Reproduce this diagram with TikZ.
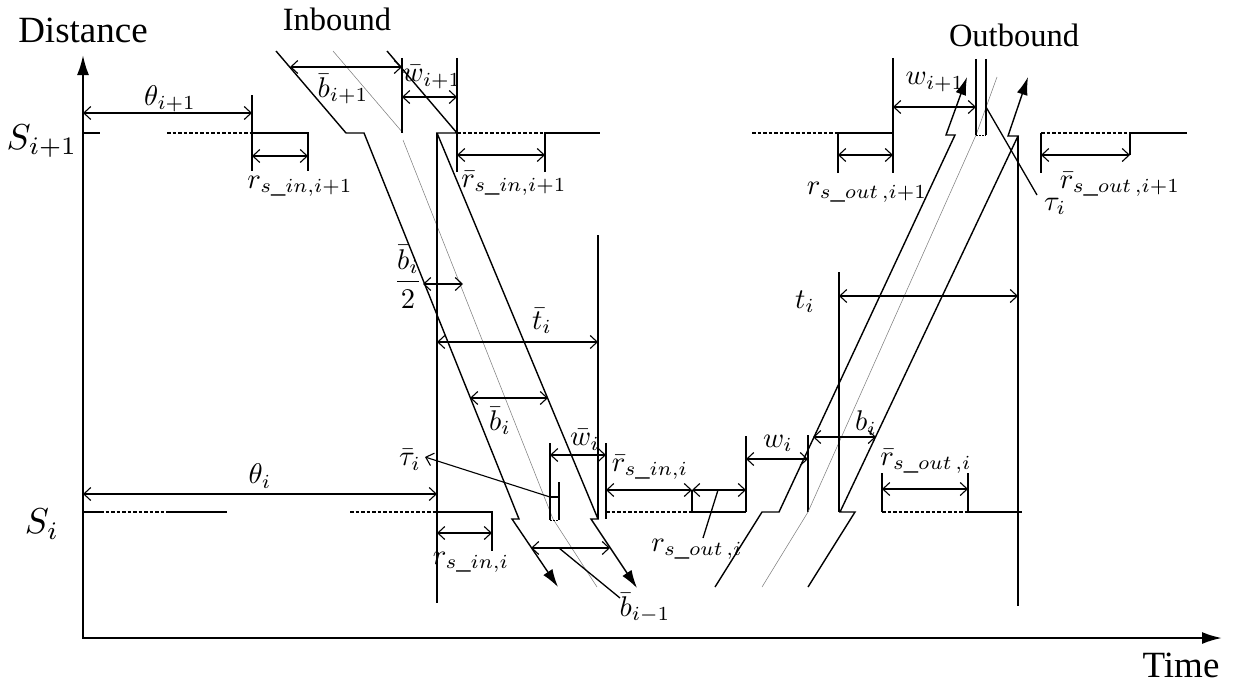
\documentclass[tikz,border=0pt]{standalone}
\usepackage[no-math]{fontspec}
\setmainfont{Liberation Serif}
\usetikzlibrary{arrows.meta}
\tikzset{
  ln/.style={line width=1.3pt},
  dimarr/.style={line width=1.1pt,{Straight Barb[length=7pt,width=13pt]}-{Straight Barb[length=7pt,width=13pt]}},
  ptr/.style={line width=1.1pt,-{Straight Barb[length=7pt,width=13pt]}},
  bus/.style={line width=1.4pt,line join=miter,-{Latex[length=18pt,width=11pt]}},
  cen/.style={line width=0.55pt,gray},
  dsh/.style={line width=1.3pt,dash pattern=on 3.5pt off 2pt},
  ax/.style={line width=2.2pt,{Latex[length=20pt,width=12pt]}-{Latex[length=20pt,width=12pt]}},
  lab/.style={font=\fontsize{10}{12}\selectfont,scale=2.85,inner sep=0pt},
  biglab/.style={font=\fontsize{10}{12}\selectfont,scale=3.6,inner sep=0pt},
  ttl/.style={font=\fontsize{37}{40}\selectfont,inner sep=0pt},
  subttl/.style={font=\fontsize{32.5}{36}\selectfont,inner sep=0pt}
}
\begin{document}
\begin{tikzpicture}[x=1pt,y=-1pt,line width=1.3pt]
\useasboundingbox (0,0) rectangle (1233,685);
% axes
\draw[ax] (83,55) -- (83,638) -- (1222,638);
\draw[line width=2pt] (83,133) -- (100,133);
\draw[line width=2pt] (83,512) -- (100,512);
\node[ttl] (dist) at (83,30) {Distance};
\node[ttl] (time) at (1181,665) {Time};
\node[subttl] (inb) at (337,19) {Inbound};
\node[subttl] (outb) at (1014,35) {Outbound};
\node[biglab] (S1) at (42,141) {$S_{i+1}$};
\node[biglab] (S0) at (42,524) {$S_i$};
% ---------- S_{i+1} level, left
\draw[dsh] (167,133) -- (252,133);
\draw (252,95) -- (252,171);
\draw (252,133) -- (308,133) -- (308,171);
\draw[dimarr] (83,113) -- (252,113);
\draw[dimarr] (252,156) -- (308,156);
\node[lab] (th1) at (170,99) {$\theta_{i+1}$};
\node[lab] (rin1) at (300,186) {$r_{s\_in,i+1}$};
% ---------- inbound trajectories
\draw[bus] (276,51) -- (346,133) -- (364,133) -- (519,519) -- (512,519) -- (558,587);
\draw[bus] (387,51) -- (457,133) -- (437,133) -- (598,519) -- (591,519) -- (637,588);
\draw[cen] (333,51) -- (403,133);
\draw[cen] (403,140) -- (553,519) -- (597,587);
\draw (402,58) -- (402,133);
\draw (457,58) -- (457,172);
\draw[dimarr] (290,67) -- (402,67);
\draw[dimarr] (402,97) -- (457,97);
\node[lab] (bb1) at (343,89) {$\bar{b}_{i+1}$};
\node[lab] (wb1) at (432,77) {$\bar{w}_{i+1}$};
\draw[dsh] (457,133) -- (545,133);
\draw (545,172) -- (545,133) -- (600,133);
\draw[dimarr] (457,155) -- (545,155);
\node[lab] (rbin1) at (514,183) {$\bar{r}_{s\_in,i+1}$};
\draw (437,133) -- (437,603);
\draw (598,235) -- (598,519);
\draw[dimarr] (423,284) -- (463,284);
\node[lab] (bhalf) at (408,277) {$\displaystyle\frac{\bar{b}_i}{2}$};
\draw[dimarr] (437,342) -- (598,342);
\node[lab] (tb) at (542,321) {$\bar{t}_i$};
\draw[dimarr] (470,398) -- (548,398);
\node[lab] (bb) at (500,421) {$\bar{b}_i$};
% tau bar box
\draw (550,443) -- (550,520);
\draw (559,482) -- (559,520);
\draw (550,497) -- (559,497);
\draw[line width=0.8pt,dash pattern=on 1.5pt off 1.5pt] (550,520) -- (559,520);
\draw[ptr] (550,497) -- (425,457);
\node[lab] (taub) at (410,460) {$\bar{\tau}_i$};
\draw (606,443) -- (606,519);
\draw[dimarr] (550,455) -- (606,455);
\node[lab] (wb) at (585,440) {$\bar{w}_i$};
% ---------- S_i level, left
\draw[dsh] (100,512) -- (170,512);
\draw (170,512) -- (227,512);
\draw[dsh] (350,512) -- (437,512);
\draw (437,512) -- (492,512) -- (492,551);
\draw[dimarr] (83,494) -- (437,494);
\draw[dimarr] (437,533) -- (492,533);
\node[lab] (th0) at (260,476) {$\theta_i$};
\node[lab] (rin0) at (471,562) {$r_{s\_in,i}$};
\draw[dimarr] (531,548) -- (610,548);
\draw (559,548) -- (620,598);
\node[lab] (bbm) at (645,608) {$\bar{b}_{i-1}$};
% ---------- middle, S_i level
\draw[dsh] (606,512) -- (692,512);
\draw (692,490) -- (692,512) -- (746,512);
\draw (746,436) -- (746,512);
\draw[dimarr] (606,490) -- (692,490);
\draw[dimarr] (692,490) -- (746,490);
\node[lab] (rbin0) at (650,467) {$\bar{r}_{s\_in,i}$};
\draw (718,490) -- (703,538);
\node[lab] (rout0) at (697,549) {$r_{s\_out\,,i}$};
\draw[dimarr] (746,459) -- (808,459);
\draw (808,435) -- (808,512);
\node[lab] (w0) at (778,443) {$w_i$};
% ---------- outbound trajectories
\draw[bus] (715,587) -- (762,512) -- (779,512) -- (955,135) -- (946,135) -- (967,77);
\draw[bus] (808,587) -- (855,512) -- (840,512) -- (1018,136) -- (1008,136) -- (1028,77);
\draw[cen] (762,587) -- (808,512) -- (976,135) -- (997,77);
\draw (839,272) -- (839,512);
\draw (1018,136) -- (1018,606);
\draw[dimarr] (839,296) -- (1018,296);
\node[lab] (t0) at (805,302) {$t_i$};
\draw[dimarr] (813,437) -- (876,437);
\node[lab] (b0) at (866,423) {$b_i$};
% tau box
\draw (976,59) -- (976,135);
\draw (986,59) -- (986,135);
\draw[line width=0.8pt,dash pattern=on 1.5pt off 1.5pt] (976,135) -- (986,135);
\draw (893,58) -- (893,173);
\draw[dimarr] (893,107) -- (976,107);
\node[lab] (w1) at (935,82) {$w_{i+1}$};
\draw (986,107) -- (1037,195);
\node[lab] (tau0) at (1055,206) {$\tau_i$};
% ---------- S_{i+1} level, right
\draw[dsh] (752,133) -- (838,133);
\draw (838,173) -- (838,133) -- (893,133);
\draw[dimarr] (838,155) -- (893,155);
\node[lab] (rout1) at (867,192) {$r_{s\_out\,,i+1}$};
\draw (1041,133) -- (1041,173);
\draw[dsh] (1041,133) -- (1130,133);
\draw (1130,155) -- (1130,133) -- (1187,133);
\draw[dimarr] (1041,155) -- (1130,155);
\node[lab] (rbout1) at (1120,184) {$\bar{r}_{s\_out\,,i+1}$};
% ---------- S_i level, right
\draw (882,473) -- (882,512);
\draw[dsh] (882,512) -- (968,512);
\draw (968,473) -- (968,512) -- (1022,512);
\draw[dimarr] (882,489) -- (968,489);
\node[lab] (rbout0) at (926,461) {$\bar{r}_{s\_out\,,i}$};
\end{tikzpicture}
\end{document}
